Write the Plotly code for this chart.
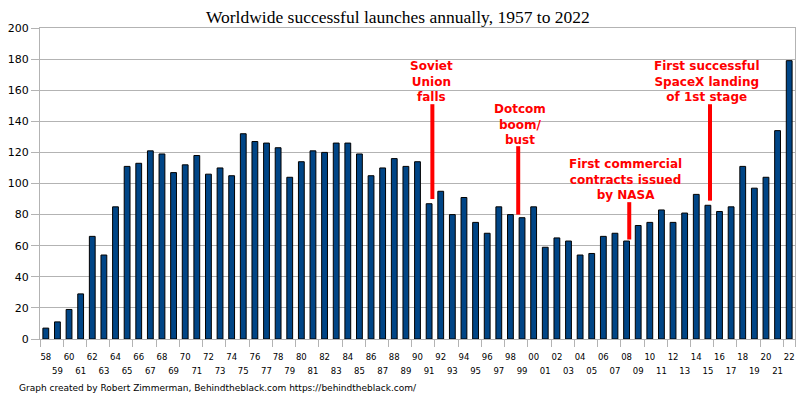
import plotly.graph_objects as go

years = list(range(1958, 2023))
launches = [7, 11, 19, 29, 66, 54, 85, 111, 113, 121,
            119, 107, 112, 118, 106, 110, 105, 132, 127, 126,
            123, 104, 114, 121, 120, 126, 126, 119, 105, 110,
            116, 111, 114, 87, 95, 80, 91, 75, 68, 85,
            80, 78, 85, 59, 65, 63, 54, 55, 66, 68,
            63, 73, 75, 83, 75, 81, 93, 86, 82, 85,
            111, 97, 104, 134, 179]
categories = [str(y) for y in years]
tick_labels = [f"{y % 100:02d}" for y in years]

events = ["Soviet<br>Union<br>falls", "Dotcom<br>boom/<br>bust",
          "First commercial<br>contracts issued<br>by NASA",
          "First successful<br>SpaceX landing<br>of 1st stage"]
event_years = [1991, 1999, 2008, 2015]

even_cats = categories[0::2]
even_labels = tick_labels[0::2]
odd_cats = categories[1::2]
odd_labels = tick_labels[1::2]

fig = go.Figure()
fig.add_trace(go.Bar(
    x=categories, y=launches,
    marker=dict(color="#004586", line=dict(color="black", width=1)),
    showlegend=False, hoverinfo="x+y",
))
# invisible companion trace so the second label row shares the categories
fig.add_trace(go.Scatter(
    x=categories, y=launches, xaxis="x2", mode="markers",
    marker=dict(opacity=0), showlegend=False, hoverinfo="skip",
))

# annotation geometry (offsets relative to the event bar)
line_dx = [0.28, -0.33, 0.23, 0.18]
line_y = [(90, 151), (80, 124), (64, 88), (89, 151)]
text_dx = [0.2, -0.2, -0.1, -0.1]
text_y = [165.8, 138.1, 102.4, 165.8]

for ev, yr, ldx, (y0, y1), tdx, ty in zip(events, event_years, line_dx, line_y, text_dx, text_y):
    idx = categories.index(str(yr))
    fig.add_shape(type="line", xref="x", yref="y", x0=idx + ldx, x1=idx + ldx,
                  y0=y0, y1=y1, line=dict(color="#ff0000", width=4))
    fig.add_annotation(x=idx + tdx, y=ty, xref="x", yref="y", text=ev, showarrow=False,
                       xanchor="center", yanchor="middle", align="center",
                       font=dict(family="DejaVu Sans", size=12, color="#ff0000", weight="bold"))

fig.add_annotation(xref="paper", yref="paper", x=-0.031, y=-0.157, xanchor="left", yanchor="middle",
                   text="Graph created by Robert Zimmerman, Behindtheblack.com https://behindtheblack.com/",
                   showarrow=False, font=dict(family="DejaVu Sans", size=9.0, color="black"))

xfont = dict(family="DejaVu Sans", size=8.5, color="black")
fig.update_layout(
    width=807, height=397,
    margin=dict(l=40, r=12, t=28, b=58),
    paper_bgcolor="white", plot_bgcolor="white",
    bargap=0.5,
    title=dict(text="Worldwide successful launches annually, 1957 to 2022",
               x=0.493, xref="container", xanchor="center",
               y=1 - 17 / 397, yref="container", yanchor="middle",
               font=dict(family="Liberation Serif", size=17.5, color="black")),
    xaxis=dict(type="category", tickmode="array", tickvals=even_cats, ticktext=even_labels,
               tickson="boundaries", ticks="outside", ticklen=7, tickcolor="#b3b3b3",
               showgrid=False, showline=True, linecolor="#b3b3b3", mirror=True,
               tickangle=0, range=[-0.5, len(categories) - 0.5], automargin=False,
               ticklabelstandoff=10, tickfont=xfont),
    xaxis2=dict(type="category", overlaying="x", matches="x", anchor="y", side="bottom",
                tickmode="array", tickvals=odd_cats, ticktext=odd_labels,
                ticks="", showgrid=False, showline=False, zeroline=False,
                tickangle=0, automargin=False, ticklabelstandoff=25, tickfont=xfont),
    yaxis=dict(range=[0, 200], dtick=20, ticks="outside", ticklen=8, tickcolor="#b3b3b3",
               showgrid=True, gridcolor="#b3b3b3", gridwidth=1, automargin=False,
               showline=True, linecolor="#b3b3b3", mirror=True, zeroline=False,
               tickfont=dict(family="DejaVu Sans", size=11, color="black")),
)

fig.write_html("out.html", config={"displayModeBar": False},
               post_script="document.body.style.margin='0px';")
